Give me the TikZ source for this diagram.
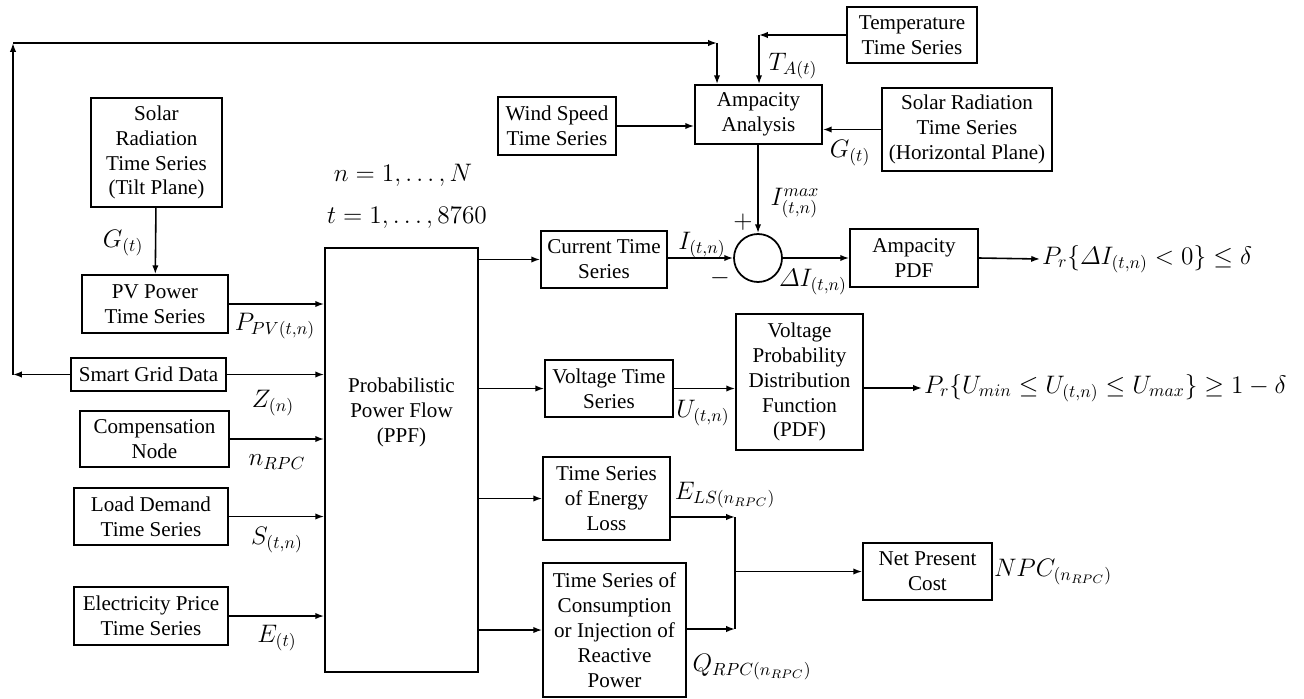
\documentclass[tikz,border=0pt]{standalone}
\usepackage{amsmath}
\usepackage{amssymb}
\usepackage{fontspec}
\setmainfont{Liberation Serif}
\usetikzlibrary{arrows.meta}

\begin{document}
\begin{tikzpicture}[x=0.02cm,y=-0.02cm,
    box/.style={draw,line width=1pt,align=center,inner sep=1pt,font=\fontsize{12}{14.2}\selectfont},
    wh/.style 2 args={minimum width=#1*0.02cm,minimum height=#2*0.02cm},
    arr/.style={line width=0.9pt,-{Latex[length=5pt,width=3.6pt]}},
    lbl/.style={font=\fontsize{14}{16}\selectfont,inner sep=1pt}]
    \useasboundingbox (0,0) rectangle (1304,699);
    % inputs on the left
    \node[box,wh={131}{109}] (tilt) at (156.5,152.5) {Solar\\Radiation\\Time Series\\(Tilt Plane)};
    \node[box,wh={146}{58}] (pv) at (155,304) {PV Power\\Time Series};
    \node[box,wh={155}{33}] (sg) at (148.5,374.5) {Smart Grid Data};
    \node[box,wh={149}{56}] (comp) at (154.5,439) {Compensation\\Node};
    \node[box,wh={154}{57}] (load) at (151,516.5) {Load Demand\\Time Series};
    \node[box,wh={154}{58}] (elec) at (151,616) {Electricity Price\\Time Series};
    \node[box,wh={153}{424}] (ppf) at (401.5,460) {};
    \node[box,draw=none] (ppftxt) at (401.5,412) {Probabilistic\\Power Flow\\(PPF)};
    % ampacity part
    \node[box,wh={118}{58}] (wind) at (557,126) {Wind Speed\\Time Series};
    \node[box,wh={127}{59}] (amp) at (758.5,114.5) {Ampacity\\Analysis};
    \node[box,wh={130}{56}] (temp) at (912,35) {Temperature\\Time Series};
    \node[box,wh={170}{83}] (solh) at (967,129.5) {Solar Radiation\\Time Series\\(Horizontal Plane)};
    \node[box,wh={126}{57}] (cur) at (604,259.5) {Current Time\\Series};
    \node[draw,circle,line width=1pt,minimum size=48*0.02cm,inner sep=0pt] (sum) at (758,258) {};
    \node[box,wh={128}{58}] (apdf) at (914,258) {Ampacity\\PDF};
    % voltage and cost part
    \node[box,wh={128}{57}] (vts) at (609,388.5) {Voltage Time\\Series};
    \node[box,wh={127}{136}] (vpdf) at (799.5,382) {Voltage\\Probability\\Distribution\\Function\\(PDF)};
    \node[box,wh={127}{83}] (eloss) at (606.5,498.5) {Time Series\\of Energy\\Loss};
    \node[box,wh={143}{134}] (cons) at (614.5,630) {Time Series of\\Consumption\\or Injection of\\Reactive\\Power};
    \node[box,wh={129}{57}] (npc) at (927.5,571.5) {Net Present\\Cost};
    \node[lbl,anchor=west] (prI) at (1040,259) {$P_r\{\varDelta I_{(t,n)} < 0\} \leq \delta$};
    \node[lbl,anchor=west] (prU) at (922,388) {$P_r\{U_{min} \leq U_{(t,n)} \leq U_{max}\} \geq 1-\delta$};
    % corners of the feedback lines
    \coordinate (sgl) at (13,374.5);
    \coordinate (sgt) at (13,43);
    \coordinate (sgr) at (717,43);
    \coordinate (tc) at (759,35);
    \coordinate (jt) at (735,517);
    \coordinate (jb) at (735,629);
    \coordinate (jm) at (735,571.5);
    % connectors
    \draw[arr] (tilt) -- (pv);
    \foreach \src in {pv,sg,comp,load,elec}
        \draw[arr] (\src.east) -- (\src.east -| ppf.west);
    \draw[arr] (sg.west) -- (sgl);
    \draw[arr] (sgl) -- (sgt);
    \draw[arr] (sgt) -- (sgr);
    \draw[arr] (sgr) -- (sgr |- amp.north);
    \draw[arr] (temp.west |- tc) -- (tc);
    \draw[arr] (tc) -- (tc |- amp.north);
    \draw[arr] (wind.east) -- (wind.east -| amp.west);
    \draw[arr] (solh.west) -- (solh.west -| amp.east);
    \draw[arr] (amp.south -| sum.north) -- (sum.north);
    \foreach \dst in {cur,vts,eloss,cons}
        \draw[arr] (\dst.west -| ppf.east) -- (\dst.west);
    \draw[arr] (cur.east |- sum.west) -- (sum.west);
    \draw[arr] (sum.east) -- (apdf.west);
    \draw[arr] (apdf.east) -- (prI.west);
    \draw[arr] (vts.east) -- (vts.east -| vpdf.west);
    \draw[arr] (prU.west -| vpdf.east) -- (prU.west);
    \draw[arr] (eloss.east |- jt) -- (jt);
    \draw[arr] (cons.east |- jb) -- (jb);
    \draw[line width=0.9pt] (jt) -- (jb);
    \draw[arr] (jm) -- (npc.west);
    % labels
    \node[lbl] (gtilt) at (123,243) {$G_{(t)}$};
    \node[lbl] (ppv) at (275,326) {$P_{PV(t,n)}$};
    \node[lbl] (zn) at (273,403) {$Z_{(n)}$};
    \node[lbl] (nrpc) at (277,462) {$n_{RPC}$};
    \node[lbl] (stn) at (277,540) {$S_{(t,n)}$};
    \node[lbl] (et) at (277,638) {$E_{(t)}$};
    \node[lbl] (nrange) at (403,175) {$n = 1, \ldots, N$};
    \node[lbl] (trange) at (407,218) {$t = 1, \ldots, 8760$};
    \node[lbl] (tat) at (793,66) {$T_{A(t)}$};
    \node[lbl] (ghor) at (850,153) {$G_{(t)}$};
    \node[lbl] (imax) at (795,203) {$I_{(t,n)}^{max}$};
    \node[lbl] (plus) at (743,222) {$+$};
    \node[lbl] (minus) at (720,278) {$-$};
    \node[lbl] (itn) at (702,245) {$I_{(t,n)}$};
    \node[lbl] (ditn) at (813,282) {$\varDelta I_{(t,n)}$};
    \node[lbl] (utn) at (703,413) {$U_{(t,n)}$};
    \node[lbl] (els) at (725,495) {$E_{LS(n_{RPC})}$};
    \node[lbl] (qrpc) at (752,667) {$Q_{RPC(n_{RPC})}$};
    \node[lbl] (npcl) at (1053,572) {$NPC_{(n_{RPC})}$};
\end{tikzpicture}
\end{document}
